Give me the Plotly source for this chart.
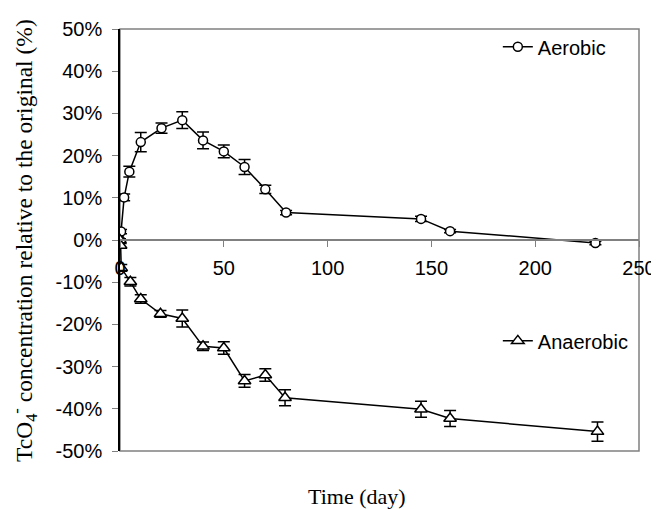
import plotly.graph_objects as go

# Aerobic series
aer_days = [0, 0.5, 2, 4.5, 10, 20, 30, 40, 50, 60, 70, 80, 145, 159, 229]
aer_vals = [0, 2.0, 10.1, 16.2, 23.2, 26.5, 28.4, 23.6, 21.0, 17.3, 12.0, 6.5, 5.0, 2.1, -0.7]
aer_err = [0.3, 0.5, 0.8, 1.3, 2.3, 1.2, 2.0, 2.0, 1.5, 1.8, 1.0, 0.5, 0.6, 0.4, 0.4]

# Anaerobic series
ana_days = [0, 0.3, 0.6, 5, 10, 19.5, 30, 40, 50, 60, 70, 79.5, 145, 159, 230]
ana_vals = [0, -1.3, -6.6, -9.9, -14.0, -17.5, -18.6, -25.2, -25.6, -33.4, -32.0, -37.4, -40.1, -42.3, -45.4]
ana_err = [0.3, 0.5, 0.8, 1.0, 1.0, 0.8, 2.0, 1.0, 1.5, 1.5, 1.5, 1.9, 1.9, 1.9, 2.3]

x_ticks = [0, 50, 100, 150, 200, 250]
y_ticks = [-50, -40, -30, -20, -10, 0, 10, 20, 30, 40, 50]
y_labels = [f"{v}%" for v in y_ticks]

fig = go.Figure()
fig.add_trace(go.Scatter(
    x=aer_days, y=aer_vals, name="Aerobic", mode="lines+markers",
    line=dict(color="black", width=1.5),
    marker=dict(symbol="circle", size=9, color="white", line=dict(color="black", width=1.5)),
    error_y=dict(type="data", array=aer_err, color="black", thickness=1.5, width=6),
    legend="legend",
))
fig.add_trace(go.Scatter(
    x=ana_days, y=ana_vals, name="Anaerobic", mode="lines+markers",
    line=dict(color="black", width=1.5),
    marker=dict(symbol="triangle-up", size=11, color="white", line=dict(color="black", width=1.5)),
    error_y=dict(type="data", array=ana_err, color="black", thickness=1.5, width=6),
    legend="legend2",
))

fig.update_layout(
    width=651, height=502,
    margin=dict(l=112, r=20, t=21, b=59, autoexpand=False),
    plot_bgcolor="white", paper_bgcolor="white",
    font=dict(family="Liberation Sans, Arial", size=20, color="black"),
    showlegend=True,
    legend=dict(x=0.728, y=0.958, xanchor="left", yanchor="middle",
                bgcolor="rgba(0,0,0,0)", font=dict(size=20), itemwidth=30),
    legend2=dict(x=0.728, y=0.261, xanchor="left", yanchor="middle",
                 bgcolor="rgba(0,0,0,0)", font=dict(size=20), itemwidth=30),
    xaxis=dict(range=[0, 250], tickvals=x_ticks, ticktext=[str(v) for v in x_ticks],
               showgrid=False, zeroline=False, showline=True, linecolor="#808080", linewidth=1.5,
               ticks="outside", ticklen=6, tickcolor="#808080", tickwidth=1,
               anchor="free", position=0.5, tickfont=dict(size=20), ticklabelstandoff=4,
               ticklabeloverflow="allow", automargin=False),
    yaxis=dict(range=[-50, 50], tickvals=y_ticks, ticktext=y_labels,
               showgrid=False, zeroline=False, showline=True, linecolor="black", linewidth=1.5,
               ticks="outside", ticklen=6, tickcolor="#808080", tickwidth=1,
               tickfont=dict(size=20), ticklabelstandoff=6, ticklabeloverflow="allow",
               automargin=False),
    shapes=[dict(type="rect", xref="paper", yref="paper", x0=0, y0=0, x1=1, y1=1,
                 line=dict(color="#808080", width=1.5), layer="below")],
    annotations=[
        dict(text="TcO<sub>4</sub><sup>-</sup> concentration relative to the original (%)",
             xref="paper", yref="paper", x=-0.185, y=0.5, xanchor="center", yanchor="middle",
             textangle=-90, showarrow=False,
             font=dict(family="Liberation Serif, Times New Roman", size=23.5)),
        dict(text="Time (day)", xref="paper", yref="paper", x=(357 - 120) / 519, y=-0.109,
             xanchor="center", yanchor="middle", showarrow=False,
             font=dict(family="Liberation Serif, Times New Roman", size=22)),
    ],
)

fig.write_html("out.html")
